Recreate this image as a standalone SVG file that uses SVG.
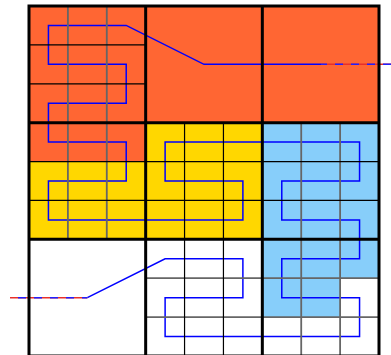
<svg xmlns="http://www.w3.org/2000/svg" width="391" height="355" viewBox="0 0 391 355">
<style>
.red{fill:#FF6633}
.yel{fill:#FFD700}
.blu{fill:#87CEFA}
.fineK{stroke:#000;stroke-width:1.2;fill:none}
.fineG{stroke:#666;stroke-width:1.8;fill:none}
.thick{stroke:#000;stroke-width:3;fill:none}
.curve{stroke:#0000FF;stroke-width:1.5;fill:none;stroke-linejoin:miter}
.tailR{stroke:#E8302A;stroke-width:1.5;fill:none}
.tailB{stroke:#2020FF;stroke-width:1.5;fill:none;stroke-dasharray:8 8}
</style>
<rect width="391" height="355" fill="#fff"/>
<g id="fills">
<rect class="red" x="29" y="6" width="350" height="116.67"/>
<rect class="red" x="29" y="122.67" width="116.67" height="38.89"/>
<rect class="yel" x="29" y="161.56" width="116.67" height="77.78"/>
<rect class="yel" x="145.67" y="122.67" width="116.67" height="116.67"/>
<rect class="blu" x="262.33" y="122.67" width="116.67" height="116.67"/>
<rect class="blu" x="262.33" y="239.33" width="116.67" height="38.89"/>
<rect class="blu" x="262.33" y="278.22" width="77.78" height="38.89"/>
</g>
<g id="connectors">
<path class="curve" d="M321,64.33 L204,64.33 L126.22,25.44 L48.44,25.44 L48.44,64.33 L126.22,64.33 L126.22,103.22 L48.44,103.22 L48.44,142.11 L126.22,142.11 L126.22,181 L48.44,181 L48.44,219.89 L242.89,219.89 L242.89,181 L165.11,181 L165.11,142.11 L359.56,142.11 L359.56,181 L281.78,181 L281.78,219.89 L359.56,219.89 L359.56,258.78 L281.78,258.78 L281.78,297.67 L359.56,297.67 L359.56,336.56 L165.11,336.56 L165.11,297.67 L242.89,297.67 L242.89,258.78 L165.11,258.78 L87.33,297.67"/>
<line class="tailR" x1="321" y1="64.33" x2="391" y2="64.33"/>
<line class="tailB" x1="391" y1="64.33" x2="321" y2="64.33"/>
<line class="tailR" x1="10" y1="297.67" x2="87.33" y2="297.67"/>
<line class="tailB" x1="10" y1="297.67" x2="87.33" y2="297.67" stroke-dashoffset="8"/>
</g>
<g id="grid">
<path class="fineG" d="M67.89,6V239.33 M106.78,6V239.33 M301.22,122.67V356 M340.11,122.67V356 M145.67,278.22H379 M145.67,317.11H379"/>
<path class="fineK" d="M29,44.89H145.67 M29,83.78H145.67 M29,161.56H379 M29,200.44H379 M184.56,122.67V356 M223.44,122.67V356"/>
<path class="thick" d="M29,6H379V356H29Z M145.67,6V356 M262.33,6V356 M29,122.67H379 M29,239.33H379"/>
</g>
</svg>
